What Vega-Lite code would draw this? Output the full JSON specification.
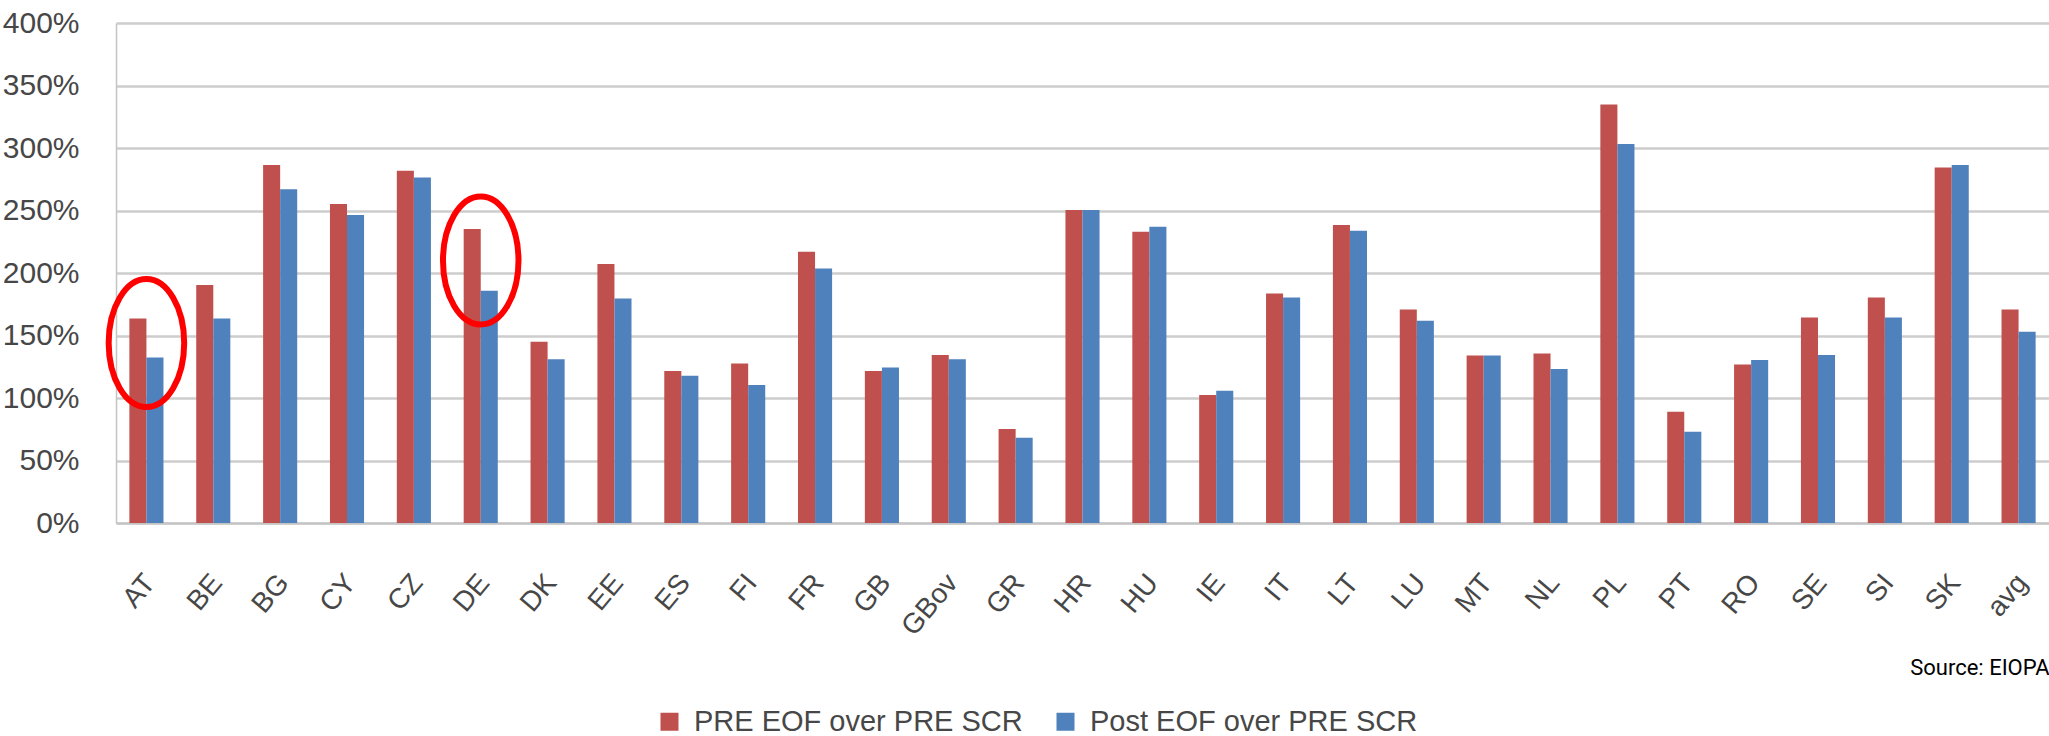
{
  "$schema": "https://vega.github.io/schema/vega-lite/v6.json",
  "width": 1933,
  "height": 500,
  "autosize": {"type": "none"},
  "padding": {"left": 116, "top": 23, "right": 0, "bottom": 213},
  "background": "white",
  "config": {"view": {"stroke": null}, "font": "Liberation Sans"},
  "datasets": {
    "bars": [
      {"country": "AT", "series": "PRE EOF over PRE SCR", "ratio": 163.7},
      {"country": "AT", "series": "Post EOF over PRE SCR", "ratio": 132.5},
      {"country": "BE", "series": "PRE EOF over PRE SCR", "ratio": 190.4},
      {"country": "BE", "series": "Post EOF over PRE SCR", "ratio": 163.7},
      {"country": "BG", "series": "PRE EOF over PRE SCR", "ratio": 286.4},
      {"country": "BG", "series": "Post EOF over PRE SCR", "ratio": 267.0},
      {"country": "CY", "series": "PRE EOF over PRE SCR", "ratio": 255.2},
      {"country": "CY", "series": "Post EOF over PRE SCR", "ratio": 246.4},
      {"country": "CZ", "series": "PRE EOF over PRE SCR", "ratio": 281.9},
      {"country": "CZ", "series": "Post EOF over PRE SCR", "ratio": 276.5},
      {"country": "DE", "series": "PRE EOF over PRE SCR", "ratio": 235.2},
      {"country": "DE", "series": "Post EOF over PRE SCR", "ratio": 185.9},
      {"country": "DK", "series": "PRE EOF over PRE SCR", "ratio": 145.0},
      {"country": "DK", "series": "Post EOF over PRE SCR", "ratio": 131.0},
      {"country": "EE", "series": "PRE EOF over PRE SCR", "ratio": 207.2},
      {"country": "EE", "series": "Post EOF over PRE SCR", "ratio": 179.7},
      {"country": "ES", "series": "PRE EOF over PRE SCR", "ratio": 121.6},
      {"country": "ES", "series": "Post EOF over PRE SCR", "ratio": 117.9},
      {"country": "FI", "series": "PRE EOF over PRE SCR", "ratio": 127.7},
      {"country": "FI", "series": "Post EOF over PRE SCR", "ratio": 110.4},
      {"country": "FR", "series": "PRE EOF over PRE SCR", "ratio": 217.0},
      {"country": "FR", "series": "Post EOF over PRE SCR", "ratio": 203.7},
      {"country": "GB", "series": "PRE EOF over PRE SCR", "ratio": 121.6},
      {"country": "GB", "series": "Post EOF over PRE SCR", "ratio": 124.5},
      {"country": "GBov", "series": "PRE EOF over PRE SCR", "ratio": 134.4},
      {"country": "GBov", "series": "Post EOF over PRE SCR", "ratio": 131.0},
      {"country": "GR", "series": "PRE EOF over PRE SCR", "ratio": 75.2},
      {"country": "GR", "series": "Post EOF over PRE SCR", "ratio": 68.3},
      {"country": "HR", "series": "PRE EOF over PRE SCR", "ratio": 250.4},
      {"country": "HR", "series": "Post EOF over PRE SCR", "ratio": 250.4},
      {"country": "HU", "series": "PRE EOF over PRE SCR", "ratio": 233.1},
      {"country": "HU", "series": "Post EOF over PRE SCR", "ratio": 237.1},
      {"country": "IE", "series": "PRE EOF over PRE SCR", "ratio": 102.4},
      {"country": "IE", "series": "Post EOF over PRE SCR", "ratio": 105.9},
      {"country": "IT", "series": "PRE EOF over PRE SCR", "ratio": 183.7},
      {"country": "IT", "series": "Post EOF over PRE SCR", "ratio": 180.5},
      {"country": "LT", "series": "PRE EOF over PRE SCR", "ratio": 238.4},
      {"country": "LT", "series": "Post EOF over PRE SCR", "ratio": 233.9},
      {"country": "LU", "series": "PRE EOF over PRE SCR", "ratio": 170.9},
      {"country": "LU", "series": "Post EOF over PRE SCR", "ratio": 161.9},
      {"country": "MT", "series": "PRE EOF over PRE SCR", "ratio": 134.1},
      {"country": "MT", "series": "Post EOF over PRE SCR", "ratio": 134.1},
      {"country": "NL", "series": "PRE EOF over PRE SCR", "ratio": 135.7},
      {"country": "NL", "series": "Post EOF over PRE SCR", "ratio": 123.2},
      {"country": "PL", "series": "PRE EOF over PRE SCR", "ratio": 334.9},
      {"country": "PL", "series": "Post EOF over PRE SCR", "ratio": 303.2},
      {"country": "PT", "series": "PRE EOF over PRE SCR", "ratio": 89.1},
      {"country": "PT", "series": "Post EOF over PRE SCR", "ratio": 73.1},
      {"country": "RO", "series": "PRE EOF over PRE SCR", "ratio": 126.9},
      {"country": "RO", "series": "Post EOF over PRE SCR", "ratio": 130.4},
      {"country": "SE", "series": "PRE EOF over PRE SCR", "ratio": 164.5},
      {"country": "SE", "series": "Post EOF over PRE SCR", "ratio": 134.4},
      {"country": "SI", "series": "PRE EOF over PRE SCR", "ratio": 180.5},
      {"country": "SI", "series": "Post EOF over PRE SCR", "ratio": 164.5},
      {"country": "SK", "series": "PRE EOF over PRE SCR", "ratio": 284.5},
      {"country": "SK", "series": "Post EOF over PRE SCR", "ratio": 286.4},
      {"country": "avg", "series": "PRE EOF over PRE SCR", "ratio": 170.9},
      {"country": "avg", "series": "Post EOF over PRE SCR", "ratio": 153.1}
    ],
    "highlights": [
      {"country": "AT", "mid": 144},
      {"country": "DE", "mid": 210}
    ]
  },
  "layer": [
    {
      "data": {"name": "bars"},
      "mark": {"type": "bar"},
      "encoding": {
        "x": {
          "field": "country",
          "type": "nominal",
          "sort": null,
          "scale": {"paddingInner": 0.49, "paddingOuter": 0.2},
          "axis": {
            "title": "Source: EIOPA",
            "titleFont": "Roboto",
            "titleFontSize": 22,
            "titleFontWeight": "normal",
            "titleColor": "#000000",
            "titleAnchor": "end",
            "titlePadding": 17,
            "labelAngle": -50,
            "labelAlign": "right",
            "labelBaseline": "middle",
            "labelFontSize": 28,
            "labelColor": "#474747",
            "labelPadding": 55,
            "labelOffset": 4,
            "ticks": false,
            "domainColor": "#c4c4c4",
            "domainWidth": 2
          }
        },
        "xOffset": {
          "field": "series",
          "type": "nominal",
          "sort": ["PRE EOF over PRE SCR", "Post EOF over PRE SCR"],
          "scale": {"paddingInner": 0, "paddingOuter": 0}
        },
        "y": {
          "field": "ratio",
          "type": "quantitative",
          "scale": {"domain": [0, 400]},
          "axis": {
            "title": null,
            "values": [0, 50, 100, 150, 200, 250, 300, 350, 400],
            "labelExpr": "datum.value + '%'",
            "labelFontSize": 30,
            "labelColor": "#474747",
            "labelPadding": 37,
            "ticks": false,
            "grid": true,
            "gridColor": "#cdcdcd",
            "gridWidth": 2.5,
            "domain": true,
            "domainColor": "#c4c4c4",
            "domainWidth": 1.5
          }
        },
        "color": {
          "field": "series",
          "type": "nominal",
          "sort": ["PRE EOF over PRE SCR", "Post EOF over PRE SCR"],
          "scale": {
            "domain": ["PRE EOF over PRE SCR", "Post EOF over PRE SCR"],
            "range": ["#C0504D", "#4F81BD"]
          },
          "legend": {
            "orient": "none",
            "legendX": 539,
            "legendY": 684,
            "direction": "horizontal",
            "title": null,
            "symbolType": "square",
            "symbolSize": 324,
            "symbolStrokeWidth": 0,
            "labelFont": "Liberation Sans",
            "labelFontSize": 29,
            "labelColor": "#474747",
            "labelOffset": 10,
            "labelLimit": 0,
            "columnPadding": 28,
            "padding": 0
          }
        }
      }
    },
    {
      "data": {"name": "highlights"},
      "mark": {
        "type": "point",
        "shape": "M -0.59,0 A 0.59,1 0 1,1 0.59,0 A 0.59,1 0 1,1 -0.59,0 Z",
        "filled": false,
        "size": 16384,
        "stroke": "#FF0000",
        "strokeWidth": 6,
        "opacity": 1
      },
      "encoding": {
        "x": {"field": "country", "type": "nominal", "sort": null},
        "y": {"field": "mid", "type": "quantitative"}
      }
    }
  ]
}
